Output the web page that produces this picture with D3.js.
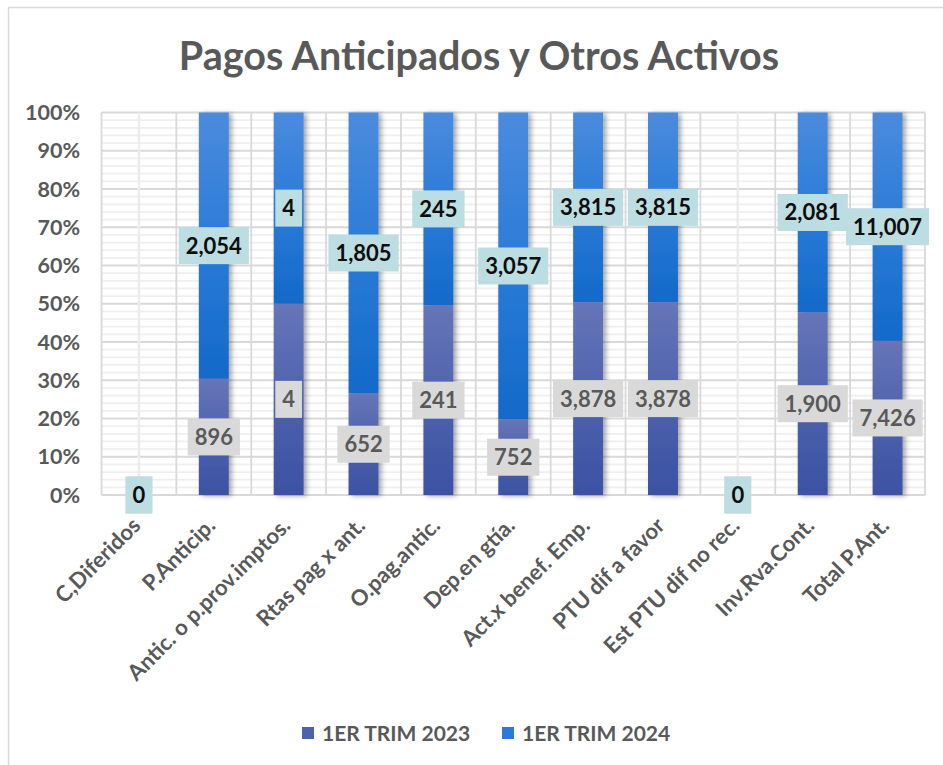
<!DOCTYPE html>
<html><head><meta charset="utf-8">
<script src="https://cdn.jsdelivr.net/npm/d3@7"></script>
<style>
body{margin:0;background:#fff}
svg{display:block}
text{font-family:Lato,"Open Sans",sans-serif;font-weight:700}
</style>
</head><body>
<svg id="c" width="943" height="765"></svg>
<script>
const title = "Pagos Anticipados y Otros Activos";
const categories = ["C,Diferidos","P.Anticip.","Antic. o p.prov.imptos.","Rtas pag x ant.","O.pag.antic.","Dep.en gtía.","Act.x benef. Emp.","PTU dif a favor","Est PTU dif no rec.","Inv.Rva.Cont.","Total P.Ant."];
const seriesNames = ["1ER TRIM 2023","1ER TRIM 2024"];
const values2023 = [0,896,4,652,241,752,3878,3878,0,1900,7426];
const values2024 = [0,2054,4,1805,245,3057,3815,3815,0,2081,11007];
const yTicks = [0,0.1,0.2,0.3,0.4,0.5,0.6,0.7,0.8,0.9,1];

(function(){
const svg = d3.select("#c");
const pL = 101.5, pR = 925, pT = 112.5, pB = 495;

svg.append("rect").attr("x",8.5).attr("y",7.5).attr("width",950).attr("height",800)
  .attr("fill","#fff").attr("stroke","#d9d9d9").attr("stroke-width",1.5);

const defs = svg.append("defs");
const grads = [
  {id:"g0", top:"#6675b7", mid:"#4d62ad", bot:"#3a52a2"},
  {id:"g1", top:"#4b8bdd", mid:"#2a7bd8", bot:"#1469c9"}
];
grads.forEach(g=>{
  const lg = defs.append("linearGradient").attr("id",g.id).attr("x1",0).attr("y1",0).attr("x2",0).attr("y2",1);
  lg.append("stop").attr("offset","0%").attr("stop-color",g.top);
  lg.append("stop").attr("offset","50%").attr("stop-color",g.mid);
  lg.append("stop").attr("offset","100%").attr("stop-color",g.bot);
});
const f = defs.append("filter").attr("id","sh").attr("x","-40%").attr("y","-10%").attr("width","180%").attr("height","120%");
f.append("feDropShadow").attr("dx",3).attr("dy",1).attr("stdDeviation",2.5).attr("flood-color","#000").attr("flood-opacity",0.35);

const x = d3.scaleBand().domain(categories).range([pL,pR]).paddingInner(0.6).paddingOuter(0.3);
const y = d3.scaleLinear().domain([0,1]).range([pB,pT]);
const step = x.step();

svg.append("text").attr("x",479).attr("y",70).attr("text-anchor","middle")
  .attr("font-size",39.5).attr("fill","#595959").text(title);

const grid = svg.append("g");
const minor = d3.range(0,51).map(i=>i/50).filter((v,i)=>i%5!==0);
grid.selectAll(".mn").data(minor).join("line")
  .attr("x1",pL).attr("x2",pR).attr("y1",d=>y(d)).attr("y2",d=>y(d))
  .attr("stroke","#efefef").attr("stroke-width",1.8);
grid.selectAll(".mj").data(yTicks).join("line")
  .attr("x1",pL).attr("x2",pR).attr("y1",d=>y(d)).attr("y2",d=>y(d))
  .attr("stroke","#d9d9d9").attr("stroke-width",1.8);
grid.selectAll(".vc").data(categories).join("line")
  .attr("x1",d=>x(d)+x.bandwidth()/2).attr("x2",d=>x(d)+x.bandwidth()/2)
  .attr("y1",pT).attr("y2",pB).attr("stroke","#ececec").attr("stroke-width",2.5);
grid.selectAll(".vb").data(d3.range(categories.length+1)).join("line")
  .attr("x1",i=>pL+i*step).attr("x2",i=>pL+i*step)
  .attr("y1",pT).attr("y2",pB).attr("stroke","#d9d9d9").attr("stroke-width",1.8);

const rows = categories.map((c,i)=>({cat:c, s0:values2023[i], s1:values2024[i]}));
const stack = d3.stack().keys(["s0","s1"]).offset(d3.stackOffsetExpand);
const series = stack(rows);

const barsG = svg.append("g").attr("filter","url(#sh)");
series.forEach((s,si)=>{
  barsG.selectAll(".b"+si).data(s).join("rect")
    .attr("x",d=>x(d.data.cat)).attr("width",x.bandwidth())
    .attr("y",d=>y(d[1])).attr("height",d=>Math.max(0,y(d[0])-y(d[1])))
    .attr("fill",`url(#g${si})`);
});

svg.append("g").selectAll("text").data(yTicks).join("text")
  .attr("x",80).attr("y",d=>y(d)).attr("dy","0.36em").attr("text-anchor","end")
  .attr("font-size",21.5).attr("fill","#595959").text(d3.format(".0%"));

svg.append("g").selectAll("text").data(categories).join("text")
  .attr("text-anchor","end").attr("font-size",22).attr("fill","#595959")
  .attr("transform",d=>`translate(${x(d)+x.bandwidth()/2+3},527) rotate(-45)`)
  .text(d=>d);

const fmt = d3.format(",");
const labelStyles = [{bg:"#d9d9d9", fg:"#595959", vals:values2023},{bg:"#bcdde1", fg:"#0d0d0d", vals:values2024}];
series.forEach((s,si)=>{
  const st = labelStyles[si];
  const g = svg.append("g");
  s.forEach((d,i)=>{
    const cx = x(d.data.cat)+x.bandwidth()/2;
    const cy = y((d[0]+d[1])/2);
    const lg = g.append("g");
    const r = lg.append("rect").attr("fill",st.bg);
    const t = lg.append("text").attr("x",cx).attr("y",cy).attr("dy","0.36em")
      .attr("text-anchor","middle").attr("font-size",22).attr("fill",st.fg).text(fmt(st.vals[i]));
    const w = t.node().getComputedTextLength();
    r.attr("x",cx-w/2-7).attr("width",w+14).attr("y",cy-18.5).attr("height",37);
  });
});

const legX = [302,502];
const lgd = svg.append("g");
seriesNames.forEach((n,i)=>{
  lgd.append("rect").attr("x",legX[i]).attr("y",727).attr("width",12).attr("height",12).attr("fill",grads[i].mid);
  lgd.append("text").attr("x",legX[i]+20).attr("y",741).attr("font-size",21).attr("fill","#595959").text(n);
});
})();
</script>
</body></html>
